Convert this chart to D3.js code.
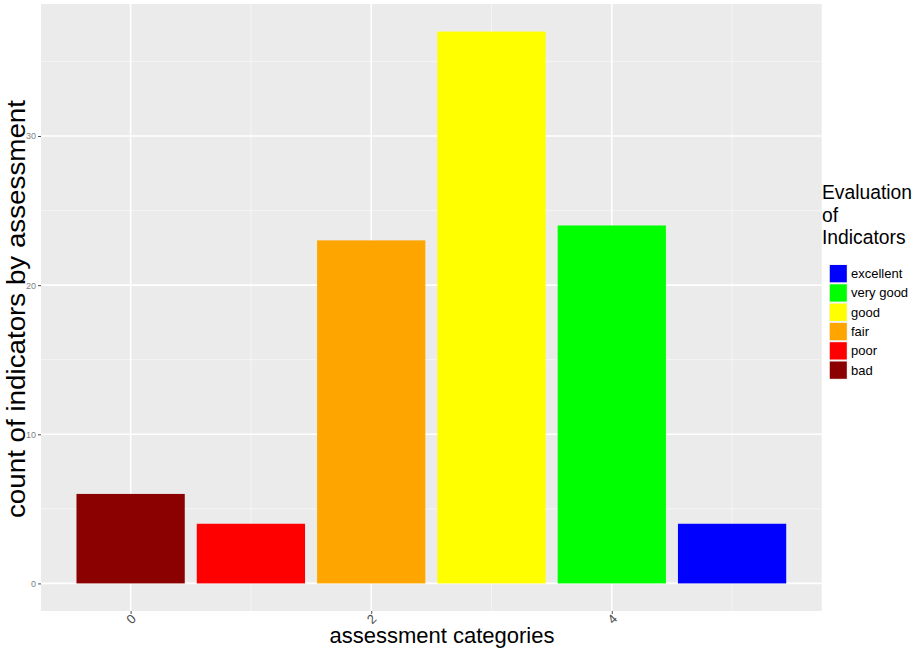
<!DOCTYPE html>
<html>
<head>
<meta charset="utf-8">
<script src="https://cdn.jsdelivr.net/npm/d3@7"></script>
<style>
  body { margin: 0; background: #fff; }
  text { font-family: "Liberation Sans", Arial, sans-serif; }
</style>
</head>
<body>
<svg width="914" height="650"></svg>
<script>
// Data
const categories = [0, 1, 2, 3, 4, 5];
const counts = [6, 4, 23, 37, 24, 4];
const levels = ["bad", "poor", "fair", "good", "very good", "excellent"];
const levelColors = ["#8B0000", "#FF0000", "#FFA500", "#FFFF00", "#00FF00", "#0000FF"];
const xTicks = [0, 2, 4];
const yTicks = [0, 10, 20, 30];

const svg = d3.select("svg");
const panel = { left: 41, right: 821.7, top: 4, bottom: 611 };

// Scales (ggplot-like 5% expansion)
const xScale = d3.scaleLinear()
                 .domain([-0.745, 5.745])
                 .range([panel.left, panel.right]);
const yScale = d3.scaleLinear()
                 .domain([-1.85, 38.85])
                 .range([panel.bottom, panel.top]);

// Panel background
svg.append("rect")
   .attr("x", panel.left)
   .attr("y", panel.top)
   .attr("width", panel.right - panel.left)
   .attr("height", panel.bottom - panel.top)
   .attr("fill", "#EBEBEB");

// Minor grid lines
const xMinor = [1, 3, 5];
const yMinor = [5, 15, 25, 35];
const grid = svg.append("g");
grid.selectAll(".xminor").data(xMinor).enter().append("line")
    .attr("x1", d => xScale(d)).attr("x2", d => xScale(d))
    .attr("y1", panel.top).attr("y2", panel.bottom)
    .attr("stroke", "#F5F5F5").attr("stroke-width", 1);
grid.selectAll(".yminor").data(yMinor).enter().append("line")
    .attr("y1", d => yScale(d)).attr("y2", d => yScale(d))
    .attr("x1", panel.left).attr("x2", panel.right)
    .attr("stroke", "#F5F5F5").attr("stroke-width", 1);

// Major grid lines
grid.selectAll(".xmajor").data(xTicks).enter().append("line")
    .attr("x1", d => xScale(d)).attr("x2", d => xScale(d))
    .attr("y1", panel.top).attr("y2", panel.bottom)
    .attr("stroke", "#FFFFFF").attr("stroke-width", 1.6);
grid.selectAll(".ymajor").data(yTicks).enter().append("line")
    .attr("y1", d => yScale(d)).attr("y2", d => yScale(d))
    .attr("x1", panel.left).attr("x2", panel.right)
    .attr("stroke", "#FFFFFF").attr("stroke-width", 1.6);

// Bars
const barWidth = 0.9;
svg.append("g").selectAll("rect")
   .data(categories)
   .enter()
   .append("rect")
   .attr("x", (d, i) => xScale(d - barWidth / 2))
   .attr("width", xScale(barWidth) - xScale(0))
   .attr("y", (d, i) => yScale(counts[i]))
   .attr("height", (d, i) => yScale(0) - yScale(counts[i]))
   .attr("fill", (d, i) => levelColors[i]);

// Y Axis
const yAxis = svg.append("g")
   .attr("class", "y-axis")
   .attr("transform", `translate(${panel.left},0)`)
   .call(d3.axisLeft(yScale).tickValues(yTicks).tickSize(3).tickPadding(2));
yAxis.select(".domain").remove();
yAxis.selectAll("line").style("stroke", "#4D4D4D");
yAxis.selectAll("text")
     .style("font-size", "9px")
     .style("font-family", "Liberation Sans, Arial, sans-serif")
     .style("fill", "#7F7F7F");

// X Axis
const xAxis = svg.append("g")
   .attr("class", "x-axis")
   .attr("transform", `translate(0,${panel.bottom})`)
   .call(d3.axisBottom(xScale).tickValues(xTicks).tickSize(3).tickFormat(d3.format("d")));
xAxis.select(".domain").remove();
xAxis.selectAll("line").style("stroke", "#4D4D4D");
xAxis.selectAll("text")
     .attr("dy", null)
     .attr("y", null)
     .attr("text-anchor", "middle")
     .attr("transform", "translate(0,8) rotate(-45)")
     .attr("dominant-baseline", "central")
     .style("font-size", "13px")
     .style("font-family", "Liberation Sans, Arial, sans-serif")
     .style("fill", "#4D4D4D");

// Axis titles
svg.append("text")
   .attr("x", 442)
   .attr("y", 643)
   .attr("text-anchor", "middle")
   .style("font-size", "22px")
   .style("fill", "#000")
   .text("assessment categories");

svg.append("text")
   .attr("transform", `translate(25,309) rotate(-90)`)
   .attr("text-anchor", "middle")
   .attr("textLength", 418)
   .attr("lengthAdjust", "spacingAndGlyphs")
   .style("font-size", "26px")
   .style("fill", "#000")
   .text("count of indicators by assessment");

// Legend
const legend = svg.append("g").attr("transform", "translate(822,0)");
["Evaluation", "of", "Indicators"].forEach((t, i) => {
    legend.append("text")
          .attr("x", 0)
          .attr("y", 199 + i * 22.6)
          .style("font-size", "19.3px")
          .style("fill", "#000")
          .text(t);
});
const legendOrder = levels.slice().reverse();
const legendColors = levelColors.slice().reverse();
const keyH = 19.3;
const rows = legend.selectAll(".row")
    .data(legendOrder)
    .enter()
    .append("g")
    .attr("transform", (d, i) => `translate(7,${264 + i * keyH})`);
rows.append("rect")
    .attr("width", 18.5).attr("height", keyH)
    .attr("fill", "#F2F2F2");
rows.append("rect")
    .attr("x", 0.8).attr("y", 1)
    .attr("width", 17).attr("height", 17.3)
    .attr("fill", (d, i) => legendColors[i]);
rows.append("text")
    .attr("x", 22)
    .attr("y", keyH / 2)
    .attr("dominant-baseline", "central")
    .style("font-size", "13px")
    .style("fill", "#000")
    .text(d => d);
</script>
</body>
</html>
